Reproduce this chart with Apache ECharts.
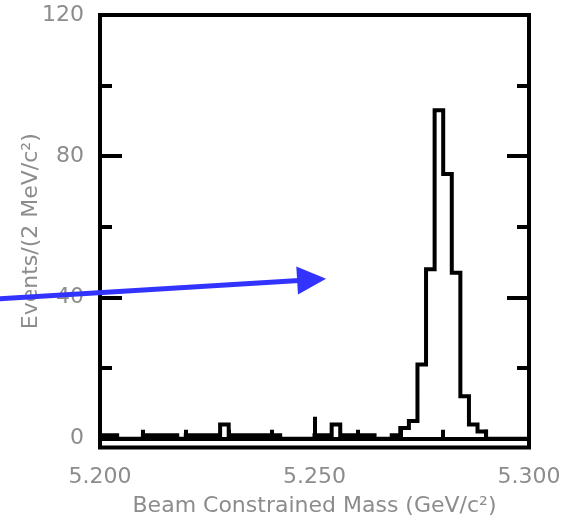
<!DOCTYPE html>
<html>
<head>
<meta charset="utf-8">
<script src="https://cdn.jsdelivr.net/npm/echarts@6/dist/echarts.min.js"></script>
<style>html,body{margin:0;padding:0;background:#fff}#c{width:565px;height:523px}</style>
</head>
<body>
<div id="c"></div>
<script>
// Bin lower edges (GeV/c^2), 2 MeV bins
var binLow = [5.200,5.202,5.204,5.206,5.208,5.210,5.212,5.214,5.216,5.218,
              5.220,5.222,5.224,5.226,5.228,5.230,5.232,5.234,5.236,5.238,
              5.240,5.242,5.244,5.246,5.248,5.250,5.252,5.254,5.256,5.258,
              5.260,5.262,5.264,5.266,5.268,5.270,5.272,5.274,5.276,5.278,
              5.280,5.282,5.284,5.286,5.288,5.290,5.292,5.294,5.296,5.298];
var binHighEnd = 5.300;
// Events per bin
var counts = [1,1,0,0,0,1,1,1,1,0,
              1,1,1,1,4,1,1,1,1,1,
              1,0,0,0,0,1,1,4,1,1,
              1,1,0,0,1,3,5,21,48,93,
              75,47,12,4,2,0,0,0,0,0];
var xTickLabels = ['5.200','5.250','5.300'];
var yTickLabels = [0,40,80,120];
var yMinorTicks = [20,60,100];
// Annotation arrow (data coordinates)
var arrowFrom = [5.1762, 39.6];
var arrowTo = [5.2527, 45.3];

var pts = [];
for (var i = 0; i < binLow.length; i++) pts.push([binLow[i], counts[i]]);
pts.push([binHighEnd, counts[counts.length - 1]]);

var FONT = 'DejaVu Sans';
var GRAY = '#8c8c8c';
var chart = echarts.init(document.getElementById('c'), null, {renderer: 'canvas'});
var yMin = -2.5, yMax = 120;
function yAx(pos, custom, len, labels) {
  return {
    type: 'value', min: yMin, max: yMax, position: pos,
    axisLine: {show: false},
    splitLine: {show: false},
    axisTick: {show: true, inside: true, length: len, customValues: custom,
               lineStyle: {color: '#000', width: 4}},
    axisLabel: labels ? {show: true, customValues: yTickLabels, margin: 16,
               fontFamily: FONT, fontSize: 22, color: GRAY} : {show: false}
  };
}
var option = {
  animation: false,
  grid: {left: 100, right: 36, top: 15, bottom: 75.5, show: true,
         borderColor: '#000', borderWidth: 4, backgroundColor: 'transparent'},
  xAxis: [{
    type: 'value', min: 5.2, max: 5.3, interval: 0.05, position: 'bottom',
    axisLine: {show: false}, splitLine: {show: false},
    axisTick: {show: true, inside: true, length: 22, lineStyle: {color: '#000', width: 4}},
    minorTick: {show: true, splitNumber: 5, length: 9, lineStyle: {color: '#000', width: 4}},
    axisLabel: {show: true, margin: 19, fontFamily: FONT, fontSize: 22, color: GRAY,
               formatter: function (v) {
                 var s = v.toFixed(3);
                 return xTickLabels.indexOf(s) >= 0 ? s : '';
               }},
    name: 'Beam Constrained Mass (GeV/c²)',
    nameLocation: 'middle', nameGap: 48,
    nameTextStyle: {fontFamily: FONT, fontSize: 22, color: GRAY}
  }],
  yAxis: [
    Object.assign(yAx('left', yTickLabels, 22, true), {
      name: 'Events/(2 MeV/c²)', nameLocation: 'middle', nameGap: 58, nameRotate: 90,
      nameMoveOverlap: false,
      nameTextStyle: {fontFamily: FONT, fontSize: 22, color: GRAY}
    }),
    yAx('left', yMinorTicks, 12, false),
    yAx('right', yTickLabels, 22, false),
    yAx('right', yMinorTicks, 12, false)
  ],
  series: [{
    type: 'line', data: pts, step: 'end', symbol: 'none',
    xAxisIndex: 0, yAxisIndex: 0,
    lineStyle: {color: '#000', width: 4, join: 'miter', cap: 'butt'},
    clip: false,
    markLine: {
      silent: true, symbol: 'none', animation: false,
      label: {show: false},
      lineStyle: {color: '#000', width: 4, type: 'solid'},
      emphasis: {disabled: true},
      data: [[{coord: [binLow[0], 0]}, {coord: [binHighEnd, 0]}]]
    }
  }]
};
chart.setOption(option);

// arrow annotation computed from data coordinates
var p0 = chart.convertToPixel({xAxisIndex: 0, yAxisIndex: 0}, arrowFrom);
var p1 = chart.convertToPixel({xAxisIndex: 0, yAxisIndex: 0}, arrowTo);
var dx = p1[0] - p0[0], dy = p1[1] - p0[1];
var L = Math.sqrt(dx * dx + dy * dy), ux = dx / L, uy = dy / L;
var headLen = 29, headHalf = 14;
var bx = p1[0] - ux * headLen, by = p1[1] - uy * headLen;
chart.setOption({
  graphic: [
    {type: 'line', shape: {x1: p0[0], y1: p0[1], x2: bx + ux * 2, y2: by + uy * 2},
     style: {stroke: '#3333ff', lineWidth: 5}, z: 100},
    {type: 'polygon', shape: {points: [[p1[0], p1[1]],
       [bx - uy * headHalf, by + ux * headHalf], [bx + uy * headHalf, by - ux * headHalf]]},
     style: {fill: '#3333ff'}, z: 100}
  ]
});
</script>
</body>
</html>
